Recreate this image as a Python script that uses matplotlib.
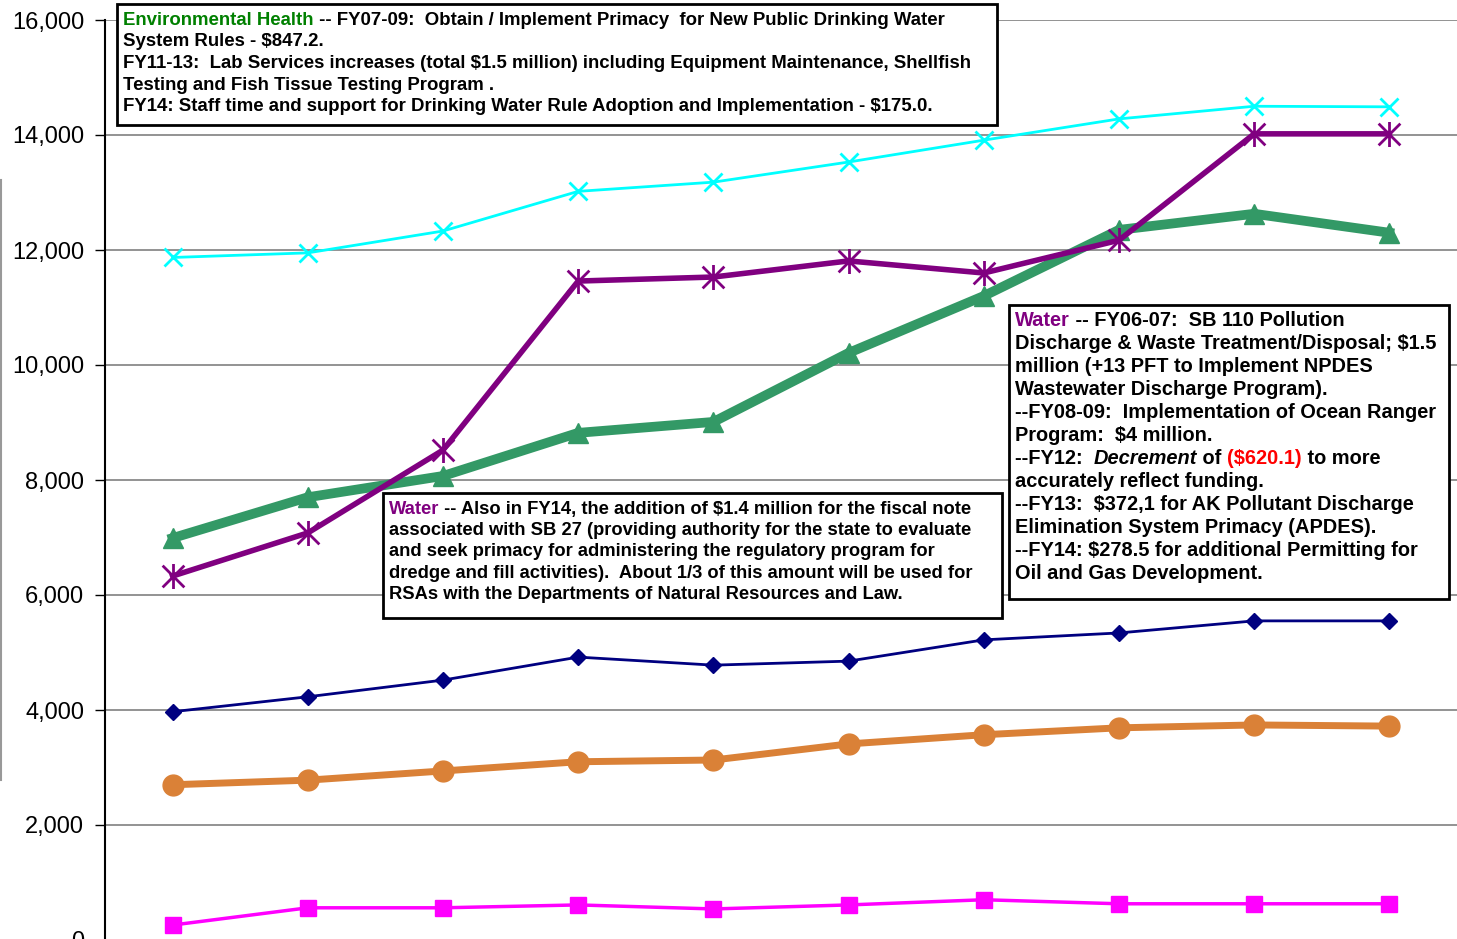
import matplotlib
matplotlib.use("Agg")
import matplotlib.pyplot as plt
from matplotlib.patches import Rectangle
from matplotlib.lines import Line2D
from matplotlib.path import Path

# fiscal years (no labels shown in the crop)
years = ["FY05", "FY06", "FY07", "FY08", "FY09", "FY10", "FY11", "FY12", "FY13", "FY14"]

total_top = [11870, 11950, 12330, 13020, 13180, 13530, 13910, 14280, 14500, 14490]
water = [6330, 7080, 8520, 11460, 11530, 11810, 11600, 12170, 14020, 14020]
env_health = [6990, 7700, 8070, 8820, 9010, 10210, 11200, 12350, 12630, 12300]
series_navy = [3970, 4230, 4520, 4920, 4780, 4850, 5220, 5340, 5550, 5550]
series_orange = [2700, 2780, 2940, 3100, 3130, 3410, 3570, 3690, 3740, 3720]
series_magenta = [260, 560, 560, 610, 540, 610, 700, 630, 630, 630]

W, H = 1457, 939
fig = plt.figure(figsize=(W / 100, H / 100), dpi=100)
ax = fig.add_axes([105 / W, -1 / H, 1 - 105 / W, 920 / H])

# Excel style star: X plus a vertical bar
star = Path([(-1, -1), (1, 1), (-1, 1), (1, -1), (0, -1.15), (0, 1.15)],
            [Path.MOVETO, Path.LINETO] * 3)

x = list(range(len(years)))
ax.plot(x, series_magenta, color="#FF00FF", lw=2.5, marker="s", ms=11, zorder=3)
ax.plot(x, series_orange, color="#DA8137", lw=5, marker="o", ms=15, zorder=3)
ax.plot(x, series_navy, color="#000080", lw=2, marker="D", ms=8, zorder=3)
ax.plot(x, env_health, color="#339966", lw=7, marker="^", ms=14, zorder=3)
ax.plot(x, water, color="#800080", lw=4, marker=star, ms=18, mew=2, zorder=3)
ax.plot(x, total_top, color="#00FFFF", lw=2, marker="x", ms=13, mew=2, zorder=3)

ax.set_xlim(-0.5, 9.5)
ax.set_ylim(0, 16000)
ax.set_yticks(range(0, 16001, 2000))
ax.set_yticklabels([f"{v:,}" for v in range(0, 16001, 2000)],
                   fontname="Liberation Sans", fontsize=17)
ax.set_xticks([])
ax.yaxis.grid(True, color="#808080", lw=1.2)
ax.set_axisbelow(True)
ax.tick_params(axis="y", length=7, width=1, pad=8)
for s in ["top", "right", "bottom"]:
    ax.spines[s].set_visible(False)
ax.spines["left"].set_linewidth(1.5)

# stray edge line at far left
fig.add_artist(Line2D([1 / W, 1 / W], [1 - 180 / H, 1 - 780 / H], color="#999999", lw=1.5))


def line_of_text(px, py, segments, size):
    # segments: (text, color, style); px, py = left/baseline in pixels from top
    prev = None
    for txt, col, sty in segments:
        kw = dict(fontname="Liberation Sans", fontweight="bold", fontsize=size,
                  color=col, fontstyle=sty, ha="left", zorder=7, clip_on=False)
        if prev is None:
            prev = ax.text(px / W, 1 - py / H, txt, transform=fig.transFigure,
                           va="baseline", **kw)
        else:
            prev = ax.annotate(txt, xy=(1, 0), xycoords=prev, va="bottom",
                               annotation_clip=False, **kw)


def box(x0, y0, x1, y1):
    ax.add_patch(Rectangle((x0 / W, 1 - y1 / H), (x1 - x0) / W, (y1 - y0) / H,
                           transform=fig.transFigure, facecolor="white",
                           edgecolor="black", lw=2, zorder=6, clip_on=False))


B = "black"
box(117, 4, 997, 125)
lines1 = [
    [("Environmental Health", "#008000", "normal"),
     (" -- FY07-09:  Obtain / Implement Primacy  for New Public Drinking Water", B, "normal")],
    [("System Rules - $847.2.", B, "normal")],
    [("FY11-13:  Lab Services increases (total $1.5 million) including Equipment Maintenance, Shellfish", B, "normal")],
    [("Testing and Fish Tissue Testing Program .", B, "normal")],
    [("FY14: Staff time and support for Drinking Water Rule Adoption and Implementation - $175.0.", B, "normal")],
]
for i, segs in enumerate(lines1):
    line_of_text(123, 25 + i * 21.5, segs, 13.4)

box(383, 493, 1002, 618)
lines2 = [
    [("Water", "#800080", "normal"),
     (" -- Also in FY14, the addition of $1.4 million for the fiscal note", B, "normal")],
    [("associated with SB 27 (providing authority for the state to evaluate", B, "normal")],
    [("and seek primacy for administering the regulatory program for", B, "normal")],
    [("dredge and fill activities).  About 1/3 of this amount will be used for", B, "normal")],
    [("RSAs with the Departments of Natural Resources and Law.", B, "normal")],
]
for i, segs in enumerate(lines2):
    line_of_text(389, 514 + i * 21.2, segs, 13.2)

box(1009, 305, 1449, 599)
lines3 = [
    [("Water", "#800080", "normal"), (" -- FY06-07:  SB 110 Pollution", B, "normal")],
    [("Discharge & Waste Treatment/Disposal; $1.5", B, "normal")],
    [("million (+13 PFT to Implement NPDES", B, "normal")],
    [("Wastewater Discharge Program).", B, "normal")],
    [("--FY08-09:  Implementation of Ocean Ranger", B, "normal")],
    [("Program:  $4 million.", B, "normal")],
    [("--FY12:  ", B, "normal"), ("Decrement", B, "italic"), (" of ", B, "normal"),
     ("($620.1)", "#FF0000", "normal"), (" to more", B, "normal")],
    [("accurately reflect funding.", B, "normal")],
    [("--FY13:  $372,1 for AK Pollutant Discharge", B, "normal")],
    [("Elimination System Primacy (APDES).", B, "normal")],
    [("--FY14: $278.5 for additional Permitting for", B, "normal")],
    [("Oil and Gas Development.", B, "normal")],
]
for i, segs in enumerate(lines3):
    line_of_text(1015, 326 + i * 23.0, segs, 14.4)

fig.savefig("out.png", dpi=100)
